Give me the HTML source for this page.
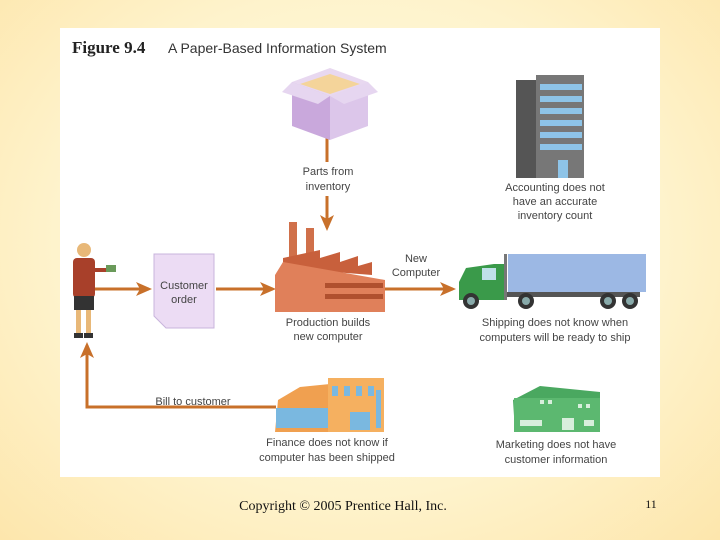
<!DOCTYPE html>
<html><head><meta charset="utf-8"><style>
html,body{margin:0;padding:0;}
body{width:720px;height:540px;overflow:hidden;background:radial-gradient(ellipse at 50% 45%,#fffbe6 0%,#fef3cc 60%,#fde6ac 100%);}
svg{display:block}
</style></head><body>
<svg width="720" height="540" viewBox="0 0 720 540" xmlns="http://www.w3.org/2000/svg">
<defs>
<marker id="ah" markerWidth="16" markerHeight="16" refX="13" refY="8" orient="auto" markerUnits="userSpaceOnUse">
<path d="M0,1 L16,8 L0,15 L4,8 Z" fill="#c8702a"/></marker>
</defs>
<rect x="60" y="28" width="600" height="449" fill="#fff"/>
<text x="72" y="53" font-family="Liberation Serif,serif" font-weight="bold" font-size="17" fill="#222">Figure 9.4</text>
<text x="168" y="53" font-family="Liberation Sans,sans-serif" font-size="14" fill="#333">A Paper-Based Information System</text>

<!-- customer order doc -->
<polygon points="154,254 214,254 214,328 166,328 154,316" fill="#ecdcf4" stroke="#c8b4dc"/>

<g stroke="#c8702a" stroke-width="3" fill="none">
<line x1="327" y1="138" x2="327" y2="162"/>
<line x1="327" y1="196" x2="327" y2="228" marker-end="url(#ah)"/>
<line x1="95" y1="289" x2="149" y2="289" marker-end="url(#ah)"/>
<line x1="216" y1="289" x2="273" y2="289" marker-end="url(#ah)"/>
<line x1="385" y1="289" x2="453" y2="289" marker-end="url(#ah)"/>
<polyline points="276,407 87,407 87,345" marker-end="url(#ah)"/>
</g>

<!-- box -->
<polygon points="292,82 330,68 368,82 330,96" fill="#e8d8f0"/>
<polygon points="300,84 330,74 360,84 330,94" fill="#f4d49a"/>
<polygon points="292,82 330,96 330,140 292,126" fill="#c9a8dc"/>
<polygon points="330,96 368,82 368,126 330,140" fill="#dcc6ea"/>
<polygon points="292,82 282,92 318,104 330,96" fill="#e6d6f0"/>
<polygon points="368,82 378,92 344,104 330,96" fill="#e6d6f0"/>

<!-- accounting building -->
<rect x="516" y="80" width="20" height="98" fill="#555"/>
<rect x="536" y="75" width="48" height="103" fill="#777"/>
<g fill="#8ec4e8"><rect x="540" y="84" width="42" height="6"/><rect x="540" y="96" width="42" height="6"/><rect x="540" y="108" width="42" height="6"/><rect x="540" y="120" width="42" height="6"/><rect x="540" y="132" width="42" height="6"/><rect x="540" y="144" width="42" height="6"/><rect x="558" y="160" width="10" height="18"/></g>

<g font-family="Liberation Sans,sans-serif" font-size="11" fill="#444" text-anchor="middle">
<text x="328" y="175">Parts from</text><text x="328" y="190">inventory</text>
<text x="555" y="191">Accounting does not</text><text x="555" y="205">have an accurate</text><text x="555" y="219">inventory count</text>
<text x="184" y="289">Customer</text><text x="184" y="303">order</text>
<text x="328" y="326">Production builds</text><text x="328" y="340">new computer</text>
<text x="416" y="262">New</text><text x="416" y="276">Computer</text>
<text x="555" y="326">Shipping does not know when</text><text x="555" y="341">computers will be ready to ship</text>
<text x="193" y="405">Bill to customer</text>
<text x="327" y="446">Finance does not know if</text><text x="327" y="461">computer has been shipped</text>
<text x="556" y="448">Marketing does not have</text><text x="556" y="463">customer information</text>
</g>

<!-- woman -->
<circle cx="84" cy="250" r="7" fill="#e8b878"/>
<rect x="73" y="258" width="22" height="40" rx="4" fill="#a8402a"/>
<rect x="93" y="268" width="16" height="4" fill="#a8402a"/>
<rect x="106" y="265" width="10" height="7" fill="#6a9a5a"/>
<rect x="74" y="296" width="20" height="14" fill="#333"/>
<rect x="76" y="310" width="5" height="24" fill="#e8b878"/><rect x="86" y="310" width="5" height="24" fill="#e8b878"/>
<rect x="74" y="333" width="9" height="5" fill="#333"/><rect x="84" y="333" width="9" height="5" fill="#333"/>

<!-- factory -->
<rect x="289" y="222" width="8" height="46" fill="#d0704a"/>
<rect x="306" y="228" width="8" height="40" fill="#d0704a"/>
<polygon points="283,268 283,258 320,250 320,258 340,252 340,262 358,256 358,266 372,262 372,275" fill="#c8603c"/>
<polygon points="275,275 283,262 385,280 385,312 275,312" fill="#e0805a"/>
<rect x="325" y="283" width="58" height="5" fill="#b0502e"/><rect x="325" y="294" width="58" height="5" fill="#b0502e"/>

<!-- truck -->
<rect x="508" y="254" width="138" height="38" fill="#9cb8e4"/>
<rect x="505" y="292" width="135" height="5" fill="#555"/>
<rect x="504" y="254" width="3" height="46" fill="#777"/>
<polygon points="459,282 466,268 494,264 504,264 504,300 459,300" fill="#3a9a4a"/>
<rect x="482" y="268" width="14" height="12" fill="#bfe0e8"/>
<g fill="#333"><circle cx="471" cy="301" r="8"/><circle cx="526" cy="301" r="8"/><circle cx="608" cy="301" r="8"/><circle cx="630" cy="301" r="8"/></g>
<g fill="#8aa"><circle cx="471" cy="301" r="4"/><circle cx="526" cy="301" r="4"/><circle cx="608" cy="301" r="4"/><circle cx="630" cy="301" r="4"/></g>

<!-- finance building -->
<polygon points="278,400 300,387 330,384 330,432 275,432" fill="#f0a050"/>
<rect x="328" y="378" width="56" height="54" fill="#f5b060"/>
<g fill="#7ab8e0"><rect x="276" y="408" width="52" height="20"/><rect x="332" y="386" width="6" height="10"/><rect x="344" y="386" width="6" height="10"/><rect x="356" y="386" width="6" height="10"/><rect x="368" y="386" width="6" height="10"/><rect x="376" y="390" width="5" height="38"/><rect x="350" y="412" width="20" height="18"/></g>

<!-- marketing building -->
<polygon points="513,400 540,386 600,392 600,432 515,432" fill="#4aa860"/>
<rect x="514" y="398" width="86" height="34" fill="#5cb870"/>
<g fill="#d8eedc"><rect x="540" y="400" width="4" height="4"/><rect x="548" y="400" width="4" height="4"/><rect x="578" y="404" width="4" height="4"/><rect x="586" y="404" width="4" height="4"/><rect x="520" y="420" width="22" height="6"/><rect x="562" y="418" width="12" height="12"/><rect x="584" y="420" width="10" height="6"/></g>

<text x="343" y="510" font-family="Liberation Serif,serif" font-size="14" fill="#111" text-anchor="middle">Copyright © 2005 Prentice Hall, Inc.</text>
<text x="651" y="508" font-family="Liberation Serif,serif" font-size="12" fill="#111" text-anchor="middle">11</text>
</svg>
</body></html>
